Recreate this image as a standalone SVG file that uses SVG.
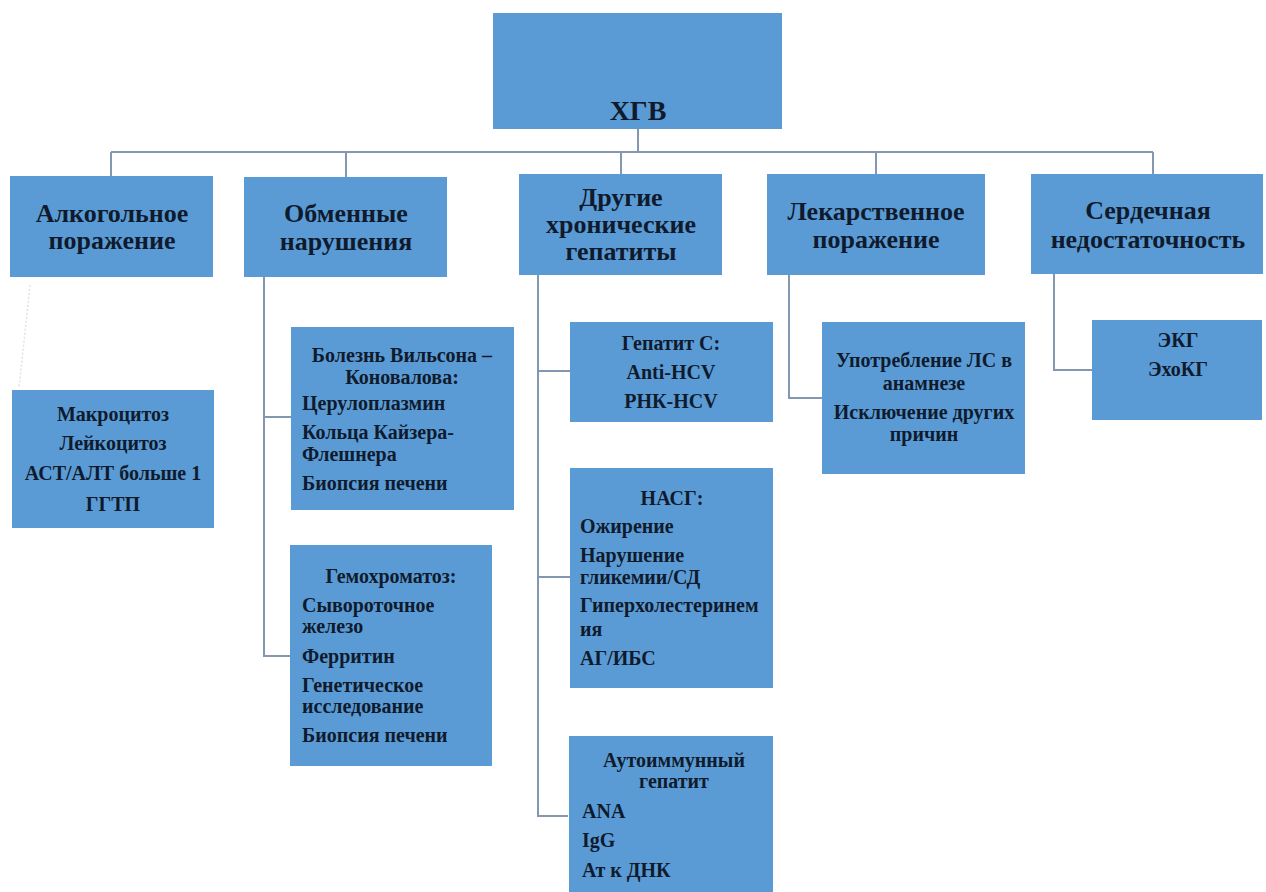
<svg xmlns="http://www.w3.org/2000/svg" width="1266" height="892" viewBox="0 0 1266 892">
<style>
.box{fill:#5b9bd5}
.t1{font-family:"Liberation Serif",serif;font-weight:bold;font-size:26px;fill:#0f1b2d;text-anchor:middle}
.t0{font-family:"Liberation Serif",serif;font-weight:bold;font-size:28px;fill:#0f1b2d;text-anchor:middle}
.t2{font-family:"Liberation Serif",serif;font-weight:bold;font-size:20px;fill:#0f1b2d}
.c{text-anchor:middle}
.ln{fill:none;stroke:#8497b0;stroke-width:2}
</style>
<rect width="1266" height="892" fill="#ffffff"/>
<g id="connectors">
<path class="ln" d="M638,129 V152 M111,152 H1153 M111,152 V176 M346,152 V177 M621,152 V174 M876,152 V174 M1153,152 V174"/>
<path d="M30,285 L19,388" fill="none" stroke="#eadede" stroke-width="1.5" stroke-dasharray="2,2"/>
<path class="ln" d="M264,277 V656 H290 M264,417 H291"/>
<path class="ln" d="M538,275 V816 H568 M538,371 H570 M538,577 H570"/>
<path class="ln" d="M789,275 V398 H822"/>
<path class="ln" d="M1054,274 V370 H1092"/>
</g>
<g id="root">
<rect class="box" x="493" y="13" width="289" height="116"/>
<text class="t0" x="638" y="120">ХГВ</text>
</g>
<g id="alco">
<rect class="box" x="10" y="176" width="203" height="101"/>
<text class="t1" x="112" y="222">Алкогольное</text>
<text class="t1" x="112" y="249">поражение</text>
</g>
<g id="metab">
<rect class="box" x="244" y="177" width="203" height="100"/>
<text class="t1" x="346" y="222">Обменные</text>
<text class="t1" x="346" y="250">нарушения</text>
</g>
<g id="other">
<rect class="box" x="519" y="174" width="203" height="101"/>
<text class="t1" x="621" y="206">Другие</text>
<text class="t1" x="621" y="233">хронические</text>
<text class="t1" x="621" y="260">гепатиты</text>
</g>
<g id="drug">
<rect class="box" x="767" y="174" width="218" height="101"/>
<text class="t1" x="876" y="220">Лекарственное</text>
<text class="t1" x="876" y="248">поражение</text>
</g>
<g id="heart">
<rect class="box" x="1031" y="174" width="232" height="100"/>
<text class="t1" x="1148" y="219">Сердечная</text>
<text class="t1" x="1148" y="248">недостаточность</text>
</g>
<g id="alco-signs">
<rect class="box" x="12" y="390" width="202" height="138"/>
<text class="t2 c" x="113" y="421">Макроцитоз</text>
<text class="t2 c" x="113" y="450">Лейкоцитоз</text>
<text class="t2 c" x="113" y="480">АСТ/АЛТ больше 1</text>
<text class="t2 c" x="113" y="511">ГГТП</text>
</g>
<g id="wilson">
<rect class="box" x="291" y="327" width="223" height="183"/>
<text class="t2 c" x="402" y="362">Болезнь Вильсона –</text>
<text class="t2 c" x="402" y="384">Коновалова:</text>
<text class="t2" x="302" y="410">Церулоплазмин</text>
<text class="t2" x="302" y="439">Кольца Кайзера-</text>
<text class="t2" x="302" y="461">Флешнера</text>
<text class="t2" x="302" y="490">Биопсия печени</text>
</g>
<g id="hemochrom">
<rect class="box" x="290" y="545" width="202" height="221"/>
<text class="t2 c" x="391" y="583">Гемохроматоз:</text>
<text class="t2" x="302" y="612">Сывороточное</text>
<text class="t2" x="302" y="633">железо</text>
<text class="t2" x="302" y="663">Ферритин</text>
<text class="t2" x="302" y="692">Генетическое</text>
<text class="t2" x="302" y="713">исследование</text>
<text class="t2" x="302" y="742">Биопсия печени</text>
</g>
<g id="hepc">
<rect class="box" x="570" y="322" width="203" height="100"/>
<text class="t2 c" x="671" y="350">Гепатит С:</text>
<text class="t2 c" x="671" y="379">Anti-HCV</text>
<text class="t2 c" x="671" y="408">РНК-HCV</text>
</g>
<g id="nash">
<rect class="box" x="570" y="468" width="203" height="220"/>
<text class="t2 c" x="672" y="505">НАСГ:</text>
<text class="t2" x="580" y="533">Ожирение</text>
<text class="t2" x="580" y="562">Нарушение</text>
<text class="t2" x="580" y="584">гликемии/СД</text>
<text class="t2" x="580" y="612">Гиперхолестеринем</text>
<text class="t2" x="580" y="636">ия</text>
<text class="t2" x="580" y="665">АГ/ИБС</text>
</g>
<g id="aih">
<rect class="box" x="569" y="736" width="204" height="160"/>
<text class="t2 c" x="674" y="767">Аутоиммунный</text>
<text class="t2 c" x="674" y="788">гепатит</text>
<text class="t2" x="582" y="818">ANA</text>
<text class="t2" x="582" y="847">IgG</text>
<text class="t2" x="582" y="877">Ат к ДНК</text>
</g>
<g id="drug-signs">
<rect class="box" x="822" y="322" width="203" height="152"/>
<text class="t2 c" x="924" y="367">Употребление ЛС в</text>
<text class="t2 c" x="924" y="390">анамнезе</text>
<text class="t2 c" x="924" y="419">Исключение других</text>
<text class="t2 c" x="924" y="441">причин</text>
</g>
<g id="heart-signs">
<rect class="box" x="1092" y="320" width="170" height="100"/>
<text class="t2 c" x="1178" y="347">ЭКГ</text>
<text class="t2 c" x="1178" y="376">ЭхоКГ</text>
</g>
</svg>
